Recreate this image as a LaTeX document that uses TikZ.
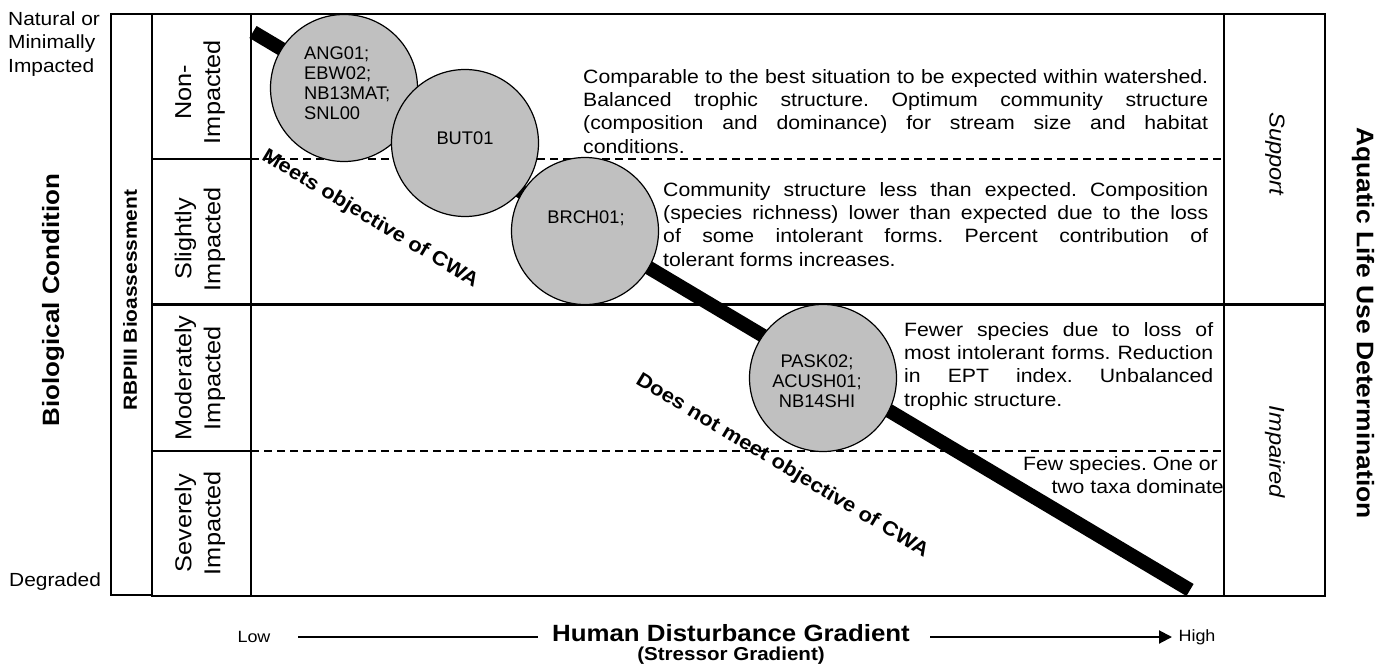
\documentclass[tikz,border=0pt]{standalone}
\usepackage{fontspec}
\setmainfont{Liberation Sans}[FakeStretch=1.1]
\newfontfamily\sitefont{Liberation Sans}
\usetikzlibrary{arrows.meta}
\definecolor{cgray}{HTML}{C0C0C0}
\tikzset{
  frame/.style={line width=2pt},
  divider/.style={line width=1.2pt, dash pattern=on 8pt off 5pt},
  para/.style={font=\fontsize{19.3}{23.4}\selectfont\frenchspacing, align=justify, inner sep=0pt, anchor=north west},
  rowlab/.style={rotate=90, align=center, inner sep=0pt, font=\fontsize{23}{29}\selectfont},
  site/.style={circle, draw, fill=cgray, line width=1.2pt, minimum size=147pt, inner sep=0pt},
  sitetext/.style={inner sep=0pt, font=\sitefont\fontsize{18.3}{20}\selectfont},
  axislab/.style={inner sep=0pt, font=\fontsize{16.3}{19}\selectfont},
  usecls/.style={rotate=-90, inner sep=0pt, font=\fontsize{21.5}{25}\selectfont\itshape},
  art/.style={rotate=-31, inner sep=0pt, font=\fontsize{20}{24}\selectfont\bfseries},
  endlab/.style={inner sep=0pt, anchor=west, align=left, font=\fontsize{19}{23.5}\selectfont},
}
\begin{document}
\begin{tikzpicture}[x=1pt,y=-1pt]
\useasboundingbox (0,0) rectangle (1381,666);

% frames
\draw[frame] (111,14) rectangle (152,595);
\draw[frame] (152,14) rectangle (251,596);
\draw[frame] (251,14) rectangle (1224,596);
\draw[frame] (1224,14) rectangle (1325,596);
\draw[frame] (152,159) -- (251,159);
\draw[frame] (152,451) -- (251,451);
\draw[divider] (251,159) -- (1224,159);
\draw[divider] (251,451) -- (1224,451);
\draw[line width=3pt] (152,304) -- (1325,304);

% left titles
\node[endlab] (nat) at (8,44) {Natural or\\Minimally\\Impacted};
\node[endlab] (deg) at (9,582) {Degraded};
\node[rotate=90, inner sep=0pt, font=\fontsize{23.6}{28}\selectfont\bfseries] (bio) at (53,300) {Biological Condition};
\node[rotate=90, inner sep=0pt, font=\fontsize{19}{23}\selectfont\bfseries] (rbp) at (130,300) {RBPIII Bioassessment};

% row labels
\node[rowlab] (r1) at (200,92) {Non-\\Impacted};
\node[rowlab] (r2) at (200,239) {Slightly\\Impacted};
\node[rowlab] (r3) at (200,378) {Moderately\\Impacted};
\node[rowlab] (r4) at (200,523) {Severely\\Impacted};

% right column
\node[usecls] (sup) at (1275,154) {Support};
\node[usecls] (imp) at (1275,452) {Impaired};
\node[rotate=-90, inner sep=0pt, font=\fontsize{24}{28}\selectfont\bfseries] (alu) at (1363,323) {Aquatic Life Use Determination};

% descriptions
\node[para, text width=625pt] (p1) at (583,69) {Comparable to the best situation to be expected within watershed.\linebreak Balanced trophic structure. Optimum community structure\linebreak (composition and dominance) for stream size and habitat\linebreak conditions.};
\node[para, text width=545pt] (p2) at (663,182) {Community structure less than expected. Composition\linebreak (species richness) lower than expected due to the loss\linebreak of some intolerant forms. Percent contribution of\linebreak tolerant forms increases.};
\node[para, text width=309pt] (p3) at (904,322) {Fewer species due to loss of\linebreak most intolerant forms. Reduction\linebreak in EPT index. Unbalanced\linebreak trophic structure.};
\node[inner sep=0pt, anchor=north east, align=right, font=\fontsize{19.3}{23.4}\selectfont\frenchspacing] (p4) at (1224,456) {Few species. One or\hspace*{6pt}\\two taxa dominate};

% gradient bar
\coordinate (b1) at (253,32);
\coordinate (b2) at (1190,590);
\draw[line width=14pt] (b1) -- (b2);

% sites
\node[site] (c1) at (344,88) {};
\node[site] (c2) at (465,143) {};
\node[site] (c3) at (585,231) {};
\node[site] (c4) at (823,378) {};
\node[sitetext, anchor=west, align=left] (t1) at (304,83) {ANG01;\\EBW02;\\NB13MAT;\\SNL00};
\node[sitetext] (t2) at (465,138) {BUT01};
\node[sitetext] (t3) at (586,218) {BRCH01;};
\node[sitetext, align=center] (t4) at (817,381) {PASK02;\\ACUSH01;\\NB14SHI};

% objective labels
\node[art] (meets) at (370,219) {Meets objective of CWA};
\node[art] (notmeet) at (782,466) {Does not meet objective of CWA};

% x axis
\node[axislab] (low) at (254,637) {Low};
\node[axislab] (high) at (1197,637) {High};
\node[inner sep=0pt, font=\fontsize{23.5}{28}\selectfont\bfseries] (hdg) at (731,633) {Human Disturbance Gradient};
\node[inner sep=0pt, font=\fontsize{18.7}{22}\selectfont\bfseries] (sg) at (731,656) {(Stressor Gradient)};
\coordinate (a1) at (298,637);
\coordinate (a2) at (538,637);
\coordinate (a3) at (930,637);
\coordinate (a4) at (1172,637);
\draw[line width=2pt] (a1) -- (a2);
\draw[line width=2pt, -{Triangle[length=13pt,width=13pt]}] (a3) -- (a4);
\end{tikzpicture}
\end{document}
